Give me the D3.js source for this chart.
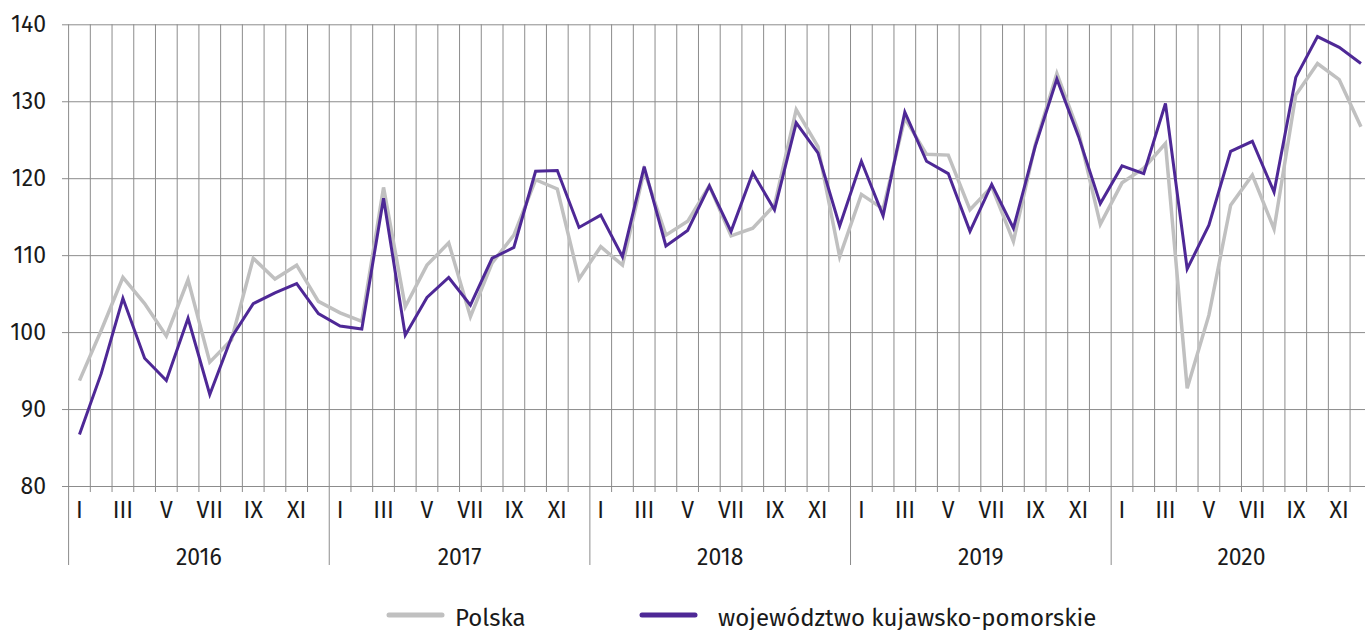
<!DOCTYPE html>
<html>
<head>
<meta charset="utf-8">
<script src="https://cdn.jsdelivr.net/npm/d3@7"></script>
<style>
  body { margin: 0; background: #fff; }
  svg { display: block; font-family: "Fira Sans", "Noto Sans", sans-serif; }
</style>
</head>
<body>
<svg id="chart" width="1365" height="630"></svg>
<script>
// data
var years = ["2016", "2017", "2018", "2019", "2020"];
var monthLabels = ["I", "", "III", "", "V", "", "VII", "", "IX", "", "XI", ""];
var yTicks = [80, 90, 100, 110, 120, 130, 140];

var polska = [
    93.7, 100.2, 107.1, 103.7, 99.5, 106.8, 96.1, 99.0, 109.6, 106.9, 108.7, 104.0,
    102.5, 101.4, 118.8, 103.3, 108.7, 111.6, 102.0, 109.0, 112.6, 119.8, 118.6, 106.9,
    111.1, 108.7, 121.0, 112.6, 114.4, 119.0, 112.5, 113.5, 116.5, 128.9, 124.1, 109.8,
    117.9, 116.0, 127.8, 123.1, 123.0, 115.9, 118.9, 111.8, 124.3, 133.6, 126.0, 114.0,
    119.4, 121.3, 124.5, 92.7, 102.2, 116.5, 120.4, 113.4, 130.8, 134.9, 132.8, 126.7
];
var kujawsko = [
    86.7, 94.6, 104.4, 96.6, 93.7, 101.8, 91.9, 99.3, 103.7, 105.1, 106.3, 102.4,
    100.8, 100.4, 117.4, 99.6, 104.5, 107.1, 103.5, 109.6, 111.0, 120.9, 121.0, 113.6,
    115.2, 109.8, 121.5, 111.2, 113.2, 119.0, 113.1, 120.7, 115.9, 127.2, 123.3, 113.8,
    122.2, 115.1, 128.6, 122.2, 120.6, 113.1, 119.2, 113.5, 124.1, 132.9, 125.4, 116.7,
    121.6, 120.6, 129.7, 108.2, 113.9, 123.5, 124.8, 118.2, 133.1, 138.4, 137.0, 134.9
];

var seriesNames = ["Polska", "województwo kujawsko-pomorskie"];
var seriesColors = ["#c0c0c0", "#4e2896"];

var gridColor = "#8c8c8c";
var textColor = "#1a1a1a";
var fontSize = "23px";

var plotLeft = 68.6, monthW = 21.72;
var plotTop = 24.3, plotBottom = 486;

var svg = d3.select("#chart");

var months = d3.range(years.length * 12);

var x = d3.scaleBand()
    .domain(months)
    .range([plotLeft, plotLeft + months.length * monthW]);

var y = d3.scaleLinear()
    .domain([80, 140])
    .range([plotBottom, plotTop]);

// horizontal gridlines + y labels
var yAxis = d3.axisLeft(y)
    .tickValues(yTicks)
    .tickSize(-(1365 - 62))
    .tickPadding(16);

svg.append("g")
    .attr("transform", "translate(62,0)")
    .call(yAxis)
    .call(g => g.select(".domain").remove())
    .call(g => g.selectAll("line").attr("stroke", gridColor))
    .call(g => g.selectAll("text")
        .attr("fill", textColor)
        .style("font-size", fontSize)
        .style("font-family", "\"Fira Sans\", \"Noto Sans\", sans-serif"));

// vertical gridlines at month boundaries, with small ticks below the axis
var edges = months.concat([months.length]);
svg.append("g")
    .selectAll("line")
    .data(edges)
    .join("line")
    .attr("x1", d => d < months.length ? x(d) : x(d - 1) + x.bandwidth())
    .attr("x2", d => d < months.length ? x(d) : x(d - 1) + x.bandwidth())
    .attr("y1", plotTop)
    .attr("y2", d => d % 12 == 0 ? 565 : 492)
    .attr("stroke", gridColor)
    .attr("stroke-width", 1);

// month labels
svg.append("g")
    .selectAll("text")
    .data(months)
    .join("text")
    .attr("x", d => x(d) + x.bandwidth() / 2)
    .attr("y", 518)
    .attr("text-anchor", "middle")
    .attr("fill", textColor)
    .style("font-size", fontSize)
    .text(d => monthLabels[d % 12]);

// year labels
svg.append("g")
    .selectAll("text")
    .data(years)
    .join("text")
    .attr("x", (d, i) => x(i * 12) + 6 * monthW)
    .attr("y", 565)
    .attr("text-anchor", "middle")
    .attr("fill", textColor)
    .style("font-size", fontSize)
    .text(d => d);

// lines
var line = d3.line()
    .x((d, i) => x(i) + x.bandwidth() / 2)
    .y(d => y(d));

[polska, kujawsko].forEach(function (values, k) {
    svg.append("path")
        .datum(values)
        .attr("fill", "none")
        .attr("stroke", seriesColors[k])
        .attr("stroke-width", k == 0 ? 3.5 : 3)
        .attr("stroke-linejoin", "miter")
        .attr("d", line);
});

// legend
var legendX = [389, 642];
var legend = svg.append("g");
seriesNames.forEach(function (name, k) {
    legend.append("line")
        .attr("x1", legendX[k])
        .attr("x2", legendX[k] + 53)
        .attr("y1", 615)
        .attr("y2", 615)
        .attr("stroke", seriesColors[k])
        .attr("stroke-width", 5)
        .attr("stroke-linecap", "round");
    legend.append("text")
        .attr("x", legendX[k] + (k == 0 ? 66 : 76))
        .attr("y", 626)
        .attr("fill", textColor)
        .style("font-size", "24px")
        .text(name);
});
</script>
</body>
</html>
